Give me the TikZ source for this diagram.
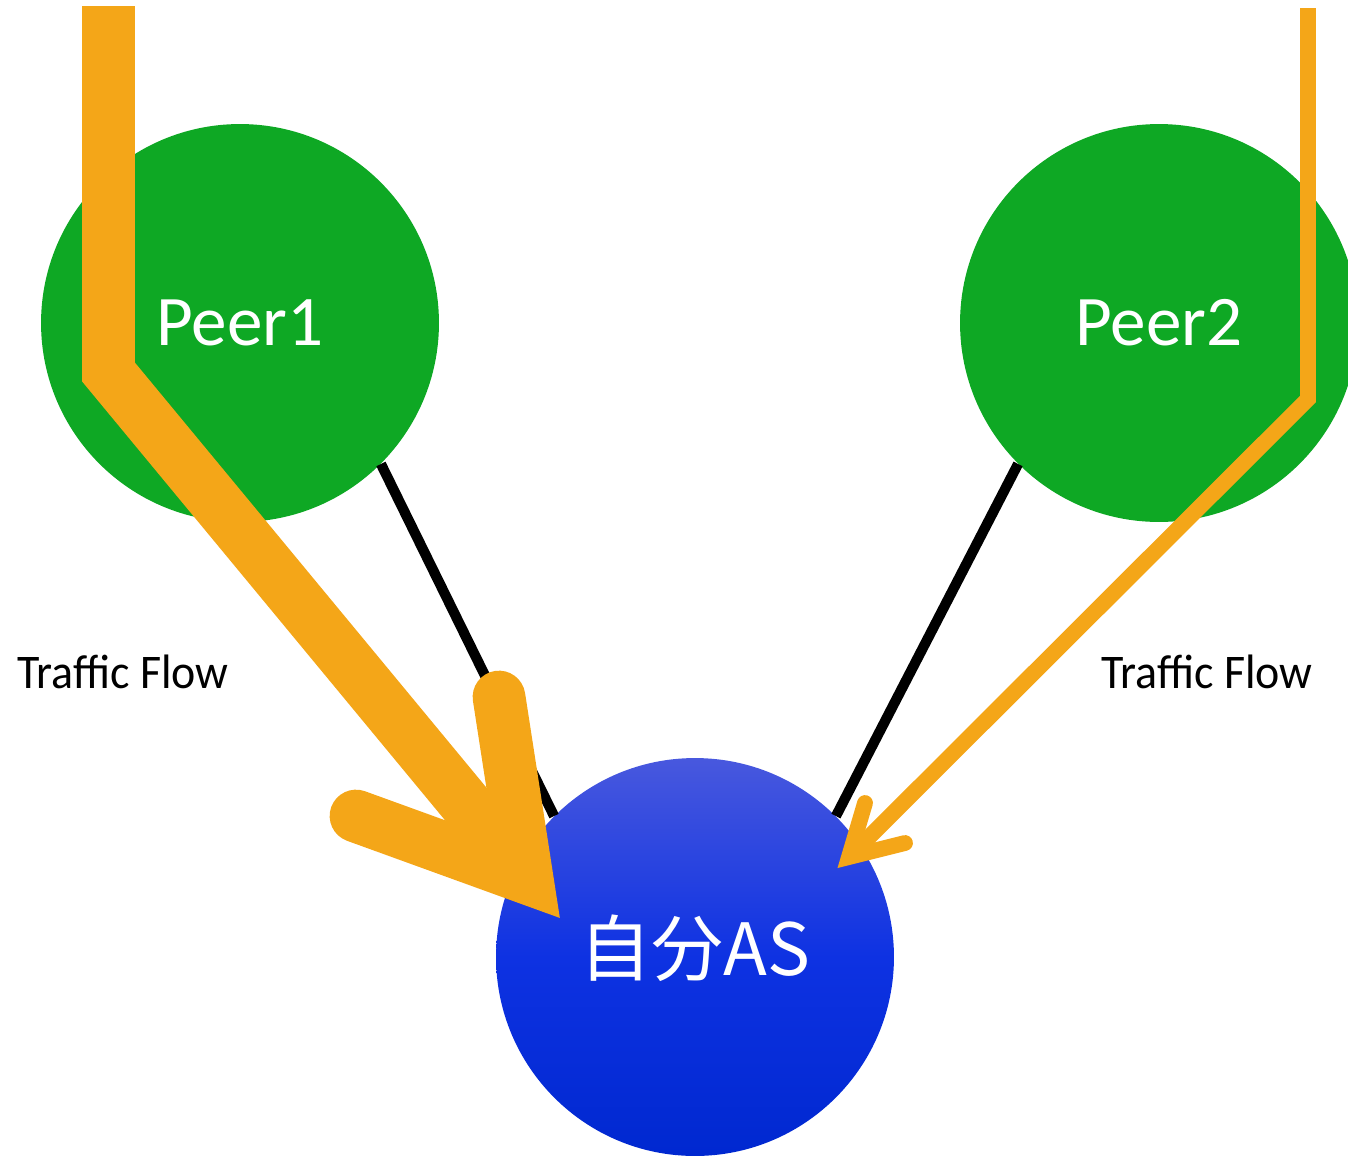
\documentclass[tikz,border=0pt]{standalone}
\usepackage{fontspec}
\setmainfont{Carlito}
\newfontfamily\cjk{Noto Sans CJK JP}
\definecolor{flow}{RGB}{244,166,24}
\definecolor{peer}{RGB}{14,168,36}
\definecolor{astop}{RGB}{72,88,222}
\definecolor{asmid}{RGB}{14,50,226}
\definecolor{asbot}{RGB}{0,40,208}
\begin{document}
\begin{tikzpicture}[x=0.02cm, y=-0.02cm,
  peernode/.style={circle, fill=peer, minimum size=7.96cm, inner sep=0pt,
    text=white, font=\fontsize{40.5}{48}\selectfont},
  asnode/.style={circle, top color=astop, bottom color=asbot, middle color=asmid, minimum size=7.96cm,
    inner sep=0pt, text=white, font=\cjk\fontsize{41}{48}\selectfont},
  link/.style={line width=5.8pt, black},
  bigflow/.style={draw=flow, line width=30pt, line join=miter},
  smallflow/.style={draw=flow, line width=9pt, line join=miter},
  flowlabel/.style={anchor=base, text=black, font=\fontsize{27.5}{32}\selectfont, inner sep=0pt}]
\useasboundingbox (0,0) rectangle (1348,1156);
\node[peernode] (p1) at (240,323) {Peer1};
\node[peernode] (p2) at (1159,323) {Peer2};
\node[asnode] (as) at (695,957) {\raisebox{5pt}[\height][\depth]{自分AS}};
\draw[link] (p1.-45) -- (as.135);
\draw[link] (p2.-135) -- (as.45);
% big traffic flow
\coordinate (t1) at (108.5,6);
\coordinate (b1) at (108.5,372);
\coordinate (v1) at (527,878);
\coordinate (w1a) at (499,697);
\coordinate (w1b) at (356,816);
\draw[bigflow] (t1) -- (b1) -- (v1);
\draw[bigflow, line cap=round] (w1a) -- (v1) -- (w1b);
% small traffic flow
\coordinate (t2) at (1308,8);
\coordinate (b2) at (1308,399);
\coordinate (v2) at (849,857);
\coordinate (w2a) at (865,803);
\coordinate (w2b) at (905,843);
\draw[smallflow] (t2) -- (b2) -- (v2);
\draw[smallflow, line cap=round] (w2a) -- (v2) -- (w2b);
\node[flowlabel] (fl1) at (123,688) {\scalebox{0.95}[1]{Traffic Flow}};
\node[flowlabel] (fl2) at (1207,688) {\scalebox{0.95}[1]{Traffic Flow}};
\end{tikzpicture}
\end{document}
